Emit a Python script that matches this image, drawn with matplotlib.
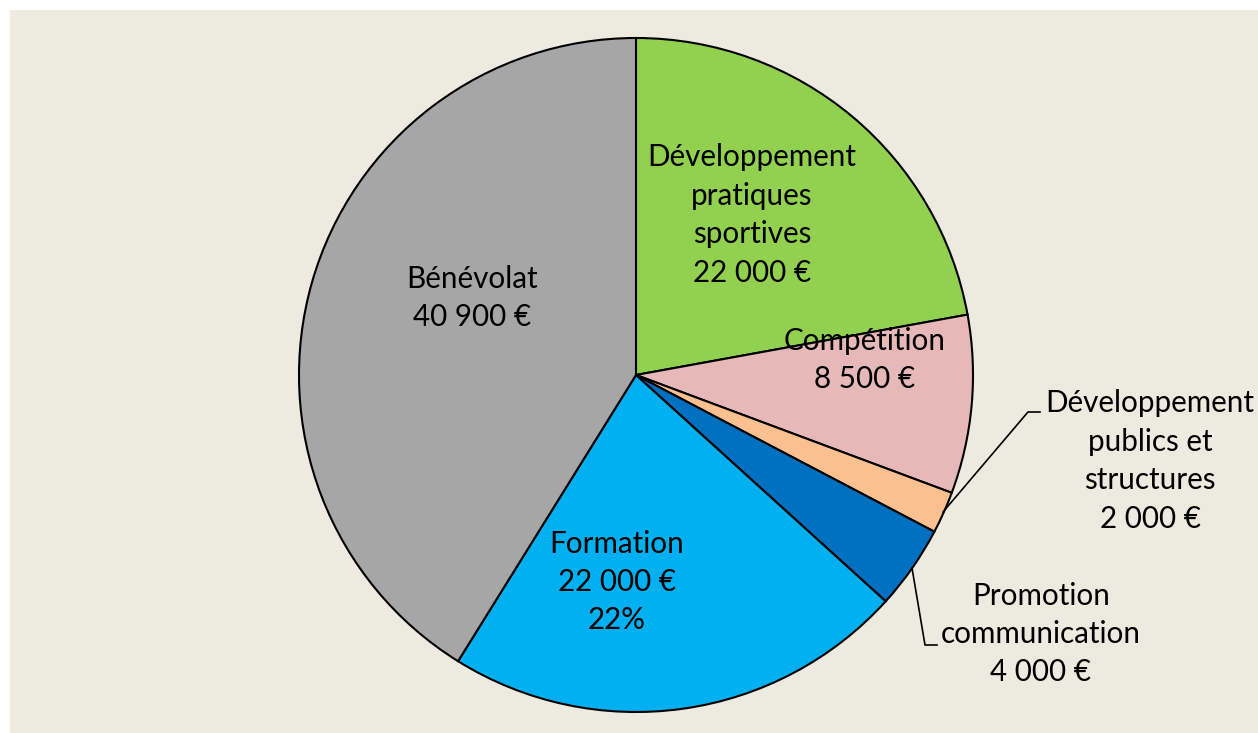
import matplotlib
matplotlib.use("Agg")
import matplotlib.pyplot as plt
from matplotlib.patches import Rectangle

# Budget data (clockwise from top)
categories = ["Développement\npratiques\nsportives", "Compétition",
              "Développement\npublics et\nstructures", "Promotion\ncommunication",
              "Formation", "Bénévolat"]
amounts = [22000, 8500, 2000, 4000, 22000, 40900]
colors = ["#92D050", "#E6B9B8", "#FAC090", "#0070C0", "#00B0F0", "#A6A6A6"]

W, H = 1258, 733
plt.rcParams['font.family'] = ['Lato', 'DejaVu Sans']

fig = plt.figure(figsize=(W / 100, H / 100), dpi=100)
ax = fig.add_axes([0, 0, 1, 1])

# background panel
ax.add_patch(Rectangle((10, 0), W - 10, H - 10, facecolor="#EDEBE0", edgecolor="none", zorder=0))

cx, cy, R = 636, H - 375, 337
wedges, _ = ax.pie(amounts, colors=colors, startangle=90, counterclock=False,
                   center=(cx, cy), radius=R, frame=True,
                   wedgeprops=dict(edgecolor="black", linewidth=1.5))
ax.set_xlim(0, W)
ax.set_ylim(0, H)
ax.axis('off')


def euro(v):
    return f"{v:,}".replace(",", " ") + " €"


total = sum(amounts)
labels = [f"{c}\n{euro(v)}" for c, v in zip(categories, amounts)]
labels[4] += f"\n{round(100 * amounts[4] / total)}%"

# label centres in pixel coordinates (x, y from top)
label_pos = [(752, 215), (865, 360), (1150, 461), (1041, 634), (617, 582), (472, 298)]
for lab, (x, y) in zip(labels, label_pos):
    ax.text(x, H - y, lab, ha="center", va="center", fontsize=21.3,
            linespacing=1.45, color="black", zorder=5)

# leader lines
ax.plot([943, 1028, 1040], [H - 512, H - 412, H - 412], color="black", lw=1.2, zorder=4)
ax.plot([912, 925, 937], [H - 568, H - 645, H - 645], color="black", lw=1.2, zorder=4)

fig.savefig("out.png", dpi=100, facecolor="white")
